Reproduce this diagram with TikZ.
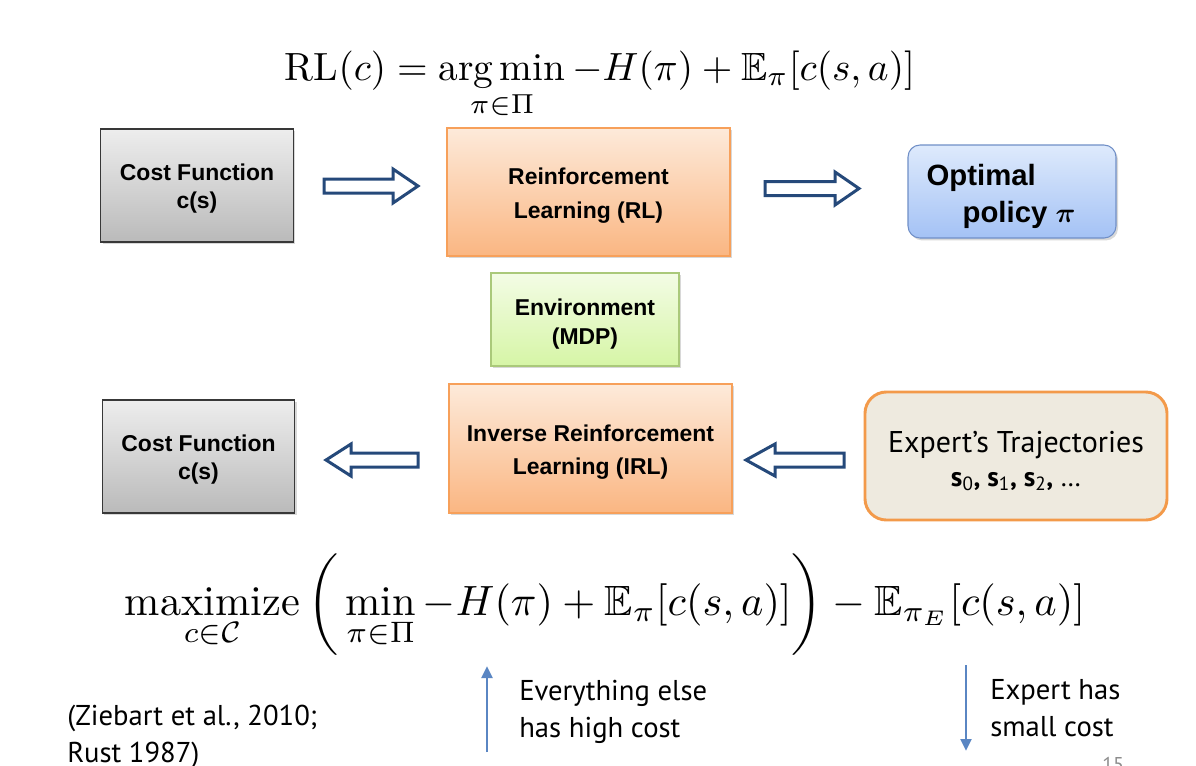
\documentclass[tikz,border=0pt]{standalone}
\usepackage{amsmath,amssymb}
\usepackage{graphicx}
\usepackage{fontspec}
\usetikzlibrary{shadows,arrows.meta}
\newfontfamily\boxfont{Liberation Sans}
\newfontfamily\notefont{PT Sans}
\definecolor{arrowblue}{HTML}{25497A}
\definecolor{thinblue}{HTML}{5A86C3}
\newcommand\mystrut[1]{\rule{0pt}{#1}}
\begin{document}
\begin{tikzpicture}[x=0.75pt,y=-0.75pt,
  box/.style={draw, line width=0.8pt, align=center, inner sep=0pt,
    drop shadow={shadow xshift=1.5pt, shadow yshift=-1.8pt, opacity=0.3},
    font=\boxfont\bfseries\fontsize{17.2}{21}\selectfont},
  graybox/.style={box, draw=black!78, top color=black!7, bottom color=black!27,
    minimum width=144.5pt, minimum height=84.75pt},
  orangebox/.style={box, draw={rgb,255:red,247;green,160;blue,90},
    top color={rgb,255:red,253;green,234;blue,218}, bottom color={rgb,255:red,250;green,182;blue,130},
    minimum width=212.25pt},
  greenbox/.style={box, draw={rgb,255:red,170;green,201;blue,122},
    top color={rgb,255:red,243;green,252;blue,229}, bottom color={rgb,255:red,214;green,245;blue,166},
    minimum width=141pt, minimum height=69.75pt},
  bluebox/.style={box, rounded corners=9pt, draw={rgb,255:red,112;green,143;blue,199},
    top color={rgb,255:red,222;green,234;blue,252}, bottom color={rgb,255:red,164;green,194;blue,245},
    minimum width=156pt, minimum height=69.75pt},
  expertbox/.style={draw={rgb,255:red,243;green,154;blue,74}, line width=2.2pt, rounded corners=16pt,
    fill={rgb,255:red,238;green,234;blue,223}, align=center, inner sep=0pt,
    minimum width=226.5pt, minimum height=96pt},
  blockarrow/.style={draw=arrowblue, line width=2.25pt, fill=white, line join=miter},
  thinarrow/.style={draw=thinblue, line width=2.2pt, -{Triangle[length=9pt,width=8pt]}},
  note/.style={font=\notefont\fontsize{21.5}{28}\selectfont, align=left, inner sep=0pt},
]
\useasboundingbox (0,0) rectangle (1196,765);
\fill[white] (0,0) rectangle (1196,765);

% formulas
\node[anchor=base, inner sep=0pt] (rlf) at (600,80)
  {\resizebox{472.5pt}{!}{$\displaystyle \mathrm{RL}(c) = \mathop{\arg\min}\limits_{\pi\in\Pi} -H(\pi) + \mathbb{E}_{\pi}[c(s,a)]$}};
\node[anchor=base, inner sep=0pt] (irlf) at (605,615)
  {\resizebox{720pt}{!}{$\displaystyle \mathop{\mathrm{maximize}}\limits_{c\in\mathcal{C}}\,\biggl(\,\min_{\pi\in\Pi} -H(\pi) + \mathbb{E}_{\pi}[c(s,a)]\biggr) - \mathbb{E}_{\pi_E}[c(s,a)]$}};

% boxes
\node[graybox] (cost1) at (197,185.5) {\mystrut{17.5pt}Cost Function\\c(s)};
\node[orangebox, minimum height=96pt, font=\boxfont\bfseries\fontsize{17.2}{25.5}\selectfont] (rl) at (588.5,192) {\mystrut{18.5pt}Reinforcement\\Learning (RL)};
\node[bluebox, font=\boxfont\bfseries\fontsize{22}{27.75}\selectfont, align=left] (opt) at (1012,191.5)
  {\mystrut{23.5pt}Optimal\\\hspace*{27pt}policy {\boldmath$\pi$}\hspace*{16.5pt}};
\node[greenbox, font=\boxfont\bfseries\fontsize{17.2}{21.75}\selectfont] (env) at (585,319.5) {\mystrut{20pt}Environment\\(MDP)};
\node[graybox] (cost2) at (198.5,456.5) {\mystrut{17.5pt}Cost Function\\c(s)};
\node[orangebox, minimum height=96.75pt, font=\boxfont\bfseries\fontsize{17.2}{24.75}\selectfont] (irl) at (590.5,448.5) {\mystrut{18.5pt}Inverse Reinforcement\\Learning (IRL)};
\node[expertbox] (exp) at (1016,456)
  {{\notefont\fontsize{22.5}{30}\selectfont\mystrut{23.5pt}Expert’s Trajectories}\\[9pt]
   {\notefont\fontsize{20.5}{24}\selectfont\bfseries s\textsubscript{\mdseries 0}, s\textsubscript{\mdseries 1}, s\textsubscript{\mdseries 2}, \mdseries …}};

% block arrows
\draw[blockarrow] (324,179) -- (393,179) -- (393,169) -- (418,186) -- (393,203) -- (393,193) -- (324,193) -- cycle;
\draw[blockarrow] (765,181.5) -- (835,181.5) -- (835,172) -- (859,188.5) -- (835,205) -- (835,195.5) -- (765,195.5) -- cycle;
\draw[blockarrow] (418,453) -- (351,453) -- (351,444) -- (326,460) -- (351,476) -- (351,467) -- (418,467) -- cycle;
\draw[blockarrow] (844,453) -- (775,453) -- (775,444) -- (746,460) -- (775,476) -- (775,467) -- (844,467) -- cycle;

% thin arrows
\coordinate (ua) at (487,752);
\coordinate (ub) at (487,666);
\coordinate (da) at (966,665);
\coordinate (db) at (966,751);
\draw[thinarrow] (ua) -- (ub);
\draw[thinarrow] (da) -- (db);

% notes
\node[note, anchor=west] (else) at (519,712) {Everything else\\has high cost};
\node[note, anchor=west] (small) at (990,708) {Expert has\\small cost};
\node[note, anchor=west] (cite) at (67,737) {(Ziebart et al., 2010;\\Rust 1987)};
\node[anchor=north west, inner sep=0pt, text=black!45, font=\notefont\fontsize{15}{18}\selectfont] (num) at (1102,757) {15};
\end{tikzpicture}
\end{document}
